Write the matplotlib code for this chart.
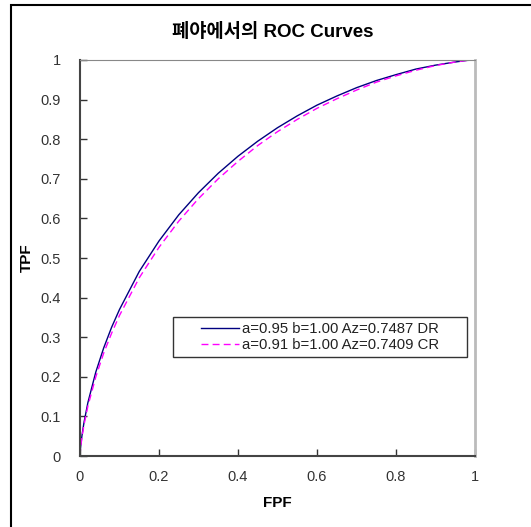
import numpy as np
import matplotlib.pyplot as plt
from matplotlib.patches import Rectangle

plt.rcParams['font.family'] = ['Liberation Sans', 'Noto Sans CJK KR', 'DejaVu Sans']

# FPF points and TPF values
fpf = [0, 0.001, 0.002, 0.005, 0.01, 0.02, 0.04, 0.06, 0.08, 0.1, 0.15, 0.2, 0.25, 0.3,
       0.35, 0.4, 0.45, 0.5, 0.55, 0.6, 0.65, 0.7, 0.75, 0.8, 0.85, 0.9, 0.95, 0.98, 1]
tpf_dr = [0, 0.016, 0.027, 0.052, 0.084, 0.135, 0.212, 0.273, 0.325, 0.370, 0.466, 0.543,
          0.609, 0.665, 0.714, 0.757, 0.795, 0.829, 0.859, 0.886, 0.909, 0.930, 0.948,
          0.963, 0.977, 0.987, 0.995, 0.999, 1]
tpf_cr = [0, 0.015, 0.024, 0.048, 0.078, 0.126, 0.200, 0.260, 0.310, 0.355, 0.450, 0.527,
          0.593, 0.650, 0.700, 0.744, 0.784, 0.819, 0.850, 0.878, 0.902, 0.924, 0.944,
          0.960, 0.974, 0.986, 0.995, 0.999, 1]

label_dr = 'a=0.95 b=1.00 Az=0.7487 DR'
label_cr = 'a=0.91 b=1.00 Az=0.7409 CR'
title = '폐야에서의 ROC Curves'
ticks = [0, 0.2, 0.4, 0.6, 0.8, 1]
yticks = [0, 0.1, 0.2, 0.3, 0.4, 0.5, 0.6, 0.7, 0.8, 0.9, 1]

fig = plt.figure(figsize=(5.31, 5.27), dpi=100)
# outer chart frame (right/bottom edges lie outside the picture)
fig.patches.append(Rectangle((11 / 531, -0.1), 1.2, (527 - 5) / 527 + 0.1,
                             transform=fig.transFigure, fill=False,
                             edgecolor='black', linewidth=1.5))

ax = fig.add_axes([80 / 531, 71 / 527, 395 / 531, 396 / 527])
ax.plot(fpf, tpf_dr, color='#000080', linewidth=1.0, label=label_dr)
ax.plot(fpf, tpf_cr, color='#ff00ff', linewidth=1.0, linestyle=(0, (5, 3)), label=label_cr)

ax.set_xlim(0, 1)
ax.set_ylim(0, 1)
ax.set_xticks(ticks)
ax.set_xticklabels(['0', '0.2', '0.4', '0.6', '0.8', '1'])
ax.set_yticks(yticks)
ax.set_yticklabels(['0', '0.1', '0.2', '0.3', '0.4', '0.5', '0.6', '0.7', '0.8', '0.9', '1'])
ax.tick_params(direction='in', length=5, width=1, color='#333333',
               labelsize=10.5, labelcolor='#333333')
ax.tick_params(axis='x', pad=10)
ax.tick_params(axis='y', pad=14)

ax.spines['left'].set_color('#444444')
ax.spines['bottom'].set_color('#444444')
ax.spines['left'].set_linewidth(1.5)
ax.spines['bottom'].set_linewidth(1.5)
ax.spines['top'].set_color('#888888')
ax.spines['right'].set_color('#bbbbbb')
ax.spines['right'].set_linewidth(2)

ax.set_xlabel('FPF', fontsize=11, fontweight='bold', labelpad=9)
ax.set_ylabel('TPF', fontsize=11, fontweight='bold')
ax.yaxis.set_label_coords(-0.1165, 0.5)
fig.text(273 / 531, 1 - 32 / 527, title, ha='center', va='center',
         fontsize=13.5, fontweight='bold')

# legend frame drawn separately, entries centred inside it
ax.add_patch(Rectangle((93 / 395, (456 - 357) / 396), 294 / 395, 40 / 396,
                       transform=ax.transAxes, fill=False, edgecolor='#333333',
                       linewidth=1.0, zorder=5))
leg = ax.legend(loc='center', bbox_to_anchor=(240 / 395, (456 - 337) / 396),
                fontsize=10.7, frameon=False, handlelength=2.6,
                handletextpad=0.2, borderpad=0, labelspacing=0.1)
for t in leg.get_texts():
    t.set_color('#222222')

fig.savefig('out.png', dpi=100)
